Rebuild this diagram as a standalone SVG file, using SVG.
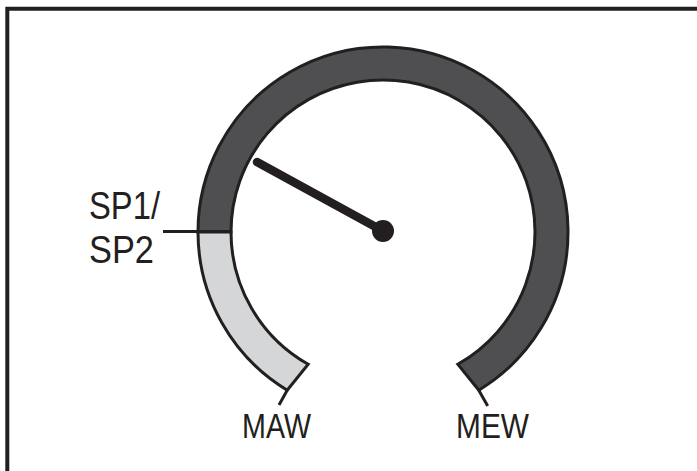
<svg xmlns="http://www.w3.org/2000/svg" width="697" height="471" viewBox="0 0 697 471">
<style>
.ol{stroke:#231f20;stroke-width:3;stroke-linejoin:miter}
.dark{fill:#4f4f51}
.light{fill:#d5d6d8}
.ln{stroke:#231f20;stroke-width:3;fill:none}
.lbl{font-family:"Liberation Sans",Arial,sans-serif;fill:#231f20}
</style>
<rect width="697" height="471" fill="#ffffff"/>
<g id="frame">
<path d="M7.3,471 V8.8 H697" fill="none" stroke="#231f20" stroke-width="4"/>
</g>
<g id="scale-high">
<path class="dark ol" d="M198,232 A185,185 0 1 1 478.8,390.2 L457.8,364.3 A152,152 0 1 0 231,232 Z"/>
</g>
<g id="scale-low">
<path class="light ol" d="M198,232 A185,185 0 0 0 287.2,390.2 L308.2,364.3 A152,152 0 0 1 231,232 Z"/>
</g>
<g id="needle">
<line x1="257" y1="162" x2="383" y2="231" stroke="#231f20" stroke-width="8.5" stroke-linecap="round"/>
<circle cx="383" cy="231" r="11" fill="#231f20"/>
</g>
<g id="connectors">
<line class="ln" x1="163" y1="231.5" x2="231" y2="231.5"/>
<line class="ln" x1="287.2" y1="390.2" x2="279" y2="405"/>
<line class="ln" x1="478.8" y1="390.2" x2="487.7" y2="406"/>
</g>
<g id="label-sp">
<text class="lbl" x="89" y="219" font-size="39" textLength="71" lengthAdjust="spacingAndGlyphs">SP1/</text>
<text class="lbl" x="89" y="263" font-size="39" textLength="65" lengthAdjust="spacingAndGlyphs">SP2</text>
</g>
<g id="label-maw">
<text class="lbl" x="242" y="438" font-size="34.5" textLength="69" lengthAdjust="spacingAndGlyphs">MAW</text>
</g>
<g id="label-mew">
<text class="lbl" x="456" y="438" font-size="34.5" textLength="73" lengthAdjust="spacingAndGlyphs">MEW</text>
</g>
</svg>
